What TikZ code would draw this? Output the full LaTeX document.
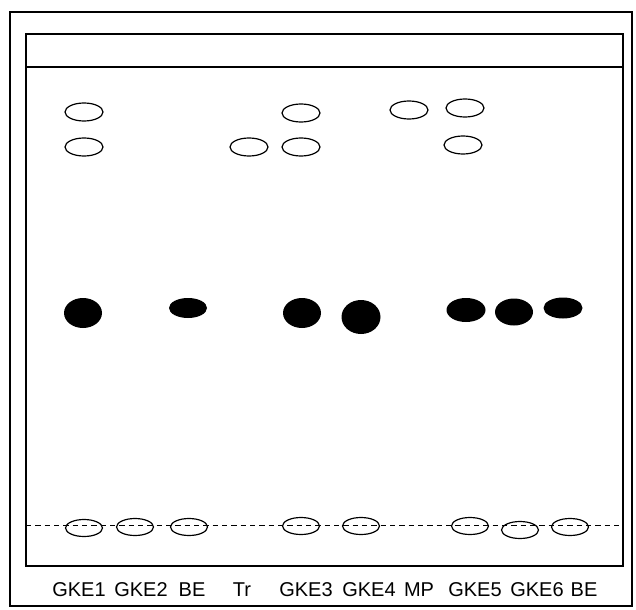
\documentclass[tikz,border=0pt]{standalone}
\usepackage{fontspec}
\setmainfont{Liberation Sans}
\usetikzlibrary{shapes.geometric}

\begin{document}
\begin{tikzpicture}[x=0.75pt,y=-0.75pt,line width=0.8pt,
  pale/.style={ellipse,draw,line width=0.9pt,inner sep=0pt,minimum width=28.5pt,minimum height=13.5pt},
  origin/.style={pale,minimum width=27.75pt,minimum height=12.75pt},
  dark/.style={ellipse,fill=black,inner sep=0pt,minimum width=28.5pt},
  lane/.style={font=\fontsize{15}{18}\selectfont,inner sep=0pt}]
\useasboundingbox (0,0) rectangle (636,610);
% ---------- frame ----------
\draw[line width=1.5pt] (10,12) rectangle (632,606);
\draw[line width=1pt] (26,34) rectangle (623,566);
\draw[line width=1pt] (26,67) -- (623,67);
% ---------- start line ----------
\coordinate (sl) at (26,525);
\coordinate (sr) at (623,525);
\draw[dash pattern=on 4pt off 3pt,line width=0.6pt] (sl) -- (sr);
\node[origin] (o1) at (84,528) {};
\node[origin] (o2) at (135,527) {};
\node[origin] (o3) at (189,527) {};
\node[origin] (o5) at (301,526) {};
\node[origin] (o6) at (361,526) {};
\node[origin] (o8) at (470,526) {};
\node[origin] (o9) at (520,530) {};
\node[origin] (o10) at (570,527) {};
% ---------- pale spots ----------
\node[pale] (a1) at (84,112) {};
\node[pale] (b1) at (84,147) {};
\node[pale] (b4) at (249,147) {};
\node[pale] (a5) at (301,113) {};
\node[pale] (b5) at (301,147) {};
\node[pale] (a7) at (409,110) {};
\node[pale] (a8) at (465,108) {};
\node[pale] (b8) at (463,145) {};
% ---------- dark spots ----------
\node[dark,minimum height=22.5pt] (c1) at (83,313) {};
\node[dark,minimum height=15pt] (c3) at (188,308) {};
\node[dark,minimum height=22.5pt] (c5) at (302,313) {};
\node[dark,minimum width=29.25pt,minimum height=25.5pt] (c6) at (361,317) {};
\node[dark,minimum width=29.25pt,minimum height=18pt] (c8) at (466,310) {};
\node[dark,minimum height=20.25pt] (c9) at (514,312) {};
\node[dark,minimum width=29.25pt,minimum height=15.75pt] (c10) at (563,308) {};
% ---------- lanes ----------
\node[lane] (l1) at (79,590) {GKE1};
\node[lane] (l2) at (141,590) {GKE2};
\node[lane] (l3) at (192,590) {BE};
\node[lane] (l4) at (242,590) {Tr};
\node[lane] (l5) at (306,590) {GKE3};
\node[lane] (l6) at (369,590) {GKE4};
\node[lane] (l7) at (419,590) {MP};
\node[lane] (l8) at (475,590) {GKE5};
\node[lane] (l9) at (537,590) {GKE6};
\node[lane] (l10) at (584,590) {BE};
\end{tikzpicture}
\end{document}
